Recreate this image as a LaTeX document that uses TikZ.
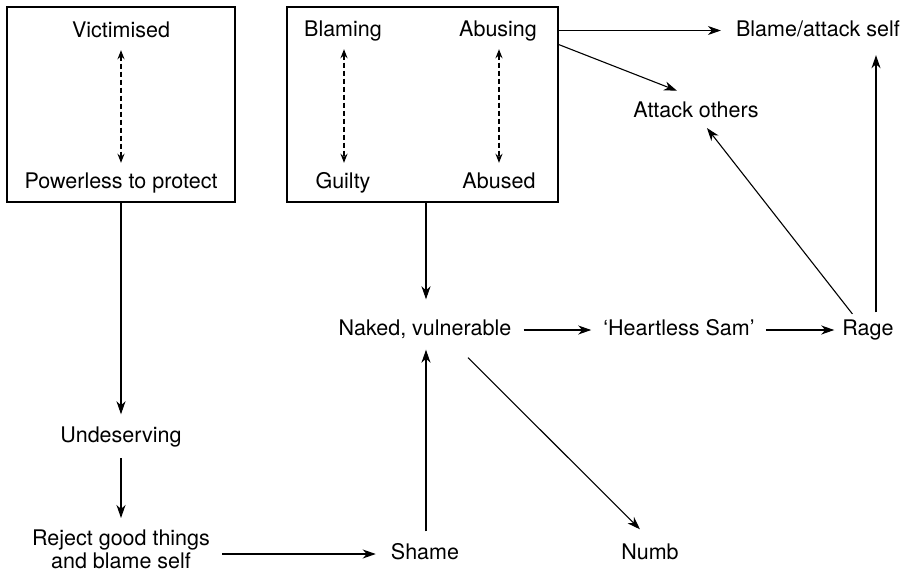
\documentclass[tikz,border=0pt]{standalone}
\usepackage{fontspec}
\setmainfont{TeX Gyre Heros}
\usetikzlibrary{arrows.meta}
\begin{document}
\begin{tikzpicture}[x=1pt,y=-1pt,
  lbl/.style={inner sep=0pt, font=\fontsize{21.5}{25}\selectfont,
    text height=15.5pt, text depth=4.5pt},
  lbltwo/.style={inner sep=0pt, font=\fontsize{21.5}{23}\selectfont, align=center, anchor=north},
  frame/.style={draw, line width=1.2pt, inner sep=0pt},
  link/.style={line width=1.1pt, -{Stealth[length=13pt,width=9pt,inset=4pt]}},
  pair/.style={line width=1.4pt, dash pattern=on 5pt off 3pt,
    {Stealth[length=9pt,width=7pt,inset=3pt]}-{Stealth[length=9pt,width=7pt,inset=3pt]}},
]
\useasboundingbox (0,0) rectangle (906,574);

% framed groups
\node[frame, minimum width=228pt, minimum height=195pt] (lbox) at (121,104.5) {};
\node[frame, minimum width=271pt, minimum height=195pt] (rbox) at (422.5,104.5) {};

% labels
\node[lbl] (vic) at (121,31.5) {Victimised};
\node[lbl] (pow) at (121,182.5) {Powerless to protect};
\node[lbl] (blaming) at (343,30.5) {Blaming};
\node[lbl] (guilty) at (343,182.5) {Guilty};
\node[lbl] (abusing) at (498,30.5) {Abusing};
\node[lbl] (abused) at (499,182.5) {Abused};
\node[lbl] (blame) at (818,30.5) {Blame/attack self};
\node[lbl] (attack) at (696,111.5) {Attack others};
\node[lbl] (naked) at (425,330) {Naked, vulnerable};
\node[lbl] (heart) at (679,330) {‘Heartless Sam’};
\node[lbl] (rage) at (868,330) {Rage};
\node[lbl] (und) at (121,436.5) {Undeserving};
\node[lbltwo] (rej) at (121,530) {Reject good things\\and blame self};
\node[lbl] (shame) at (425,554) {Shame};
\node[lbl] (numb) at (650,554) {Numb};

% two-way pairs inside the frames
\draw[pair, shorten <=8.5pt, shorten >=9.5pt] (vic.south) -- (pow.north);
\draw[pair, shorten <=8.5pt, shorten >=9.5pt] ([xshift=1pt]blaming.south) -- ([xshift=1pt]blaming.south |- guilty.north);
\draw[pair, shorten <=8.5pt, shorten >=9.5pt] ([xshift=1pt]abusing.south) -- ([xshift=1pt]abusing.south |- abused.north);

% flow
\draw[link, shorten >=12pt] (lbox.south) -- (und.north);
\draw[link, shorten <=11.5pt, shorten >=12pt] (und.south) -- (rej.north);
\draw[link, shorten <=12pt, shorten >=15pt] (rej.east |- shame.west) -- (shame.west);
\draw[link, shorten <=12.5pt, shorten >=9.5pt] ([xshift=1pt]shame.north) -- ([xshift=1pt]naked.south);
\draw[link, shorten >=20.5pt] ([xshift=1pt]rbox.south -| naked.north) -- ([xshift=1pt]naked.north);
\draw[link, shorten <=12pt, shorten >=12pt] (naked.east) -- (heart.west);
\draw[link, shorten <=11pt, shorten >=8pt] (heart.east) -- (rage.west);
\draw[link, shorten <=7.5pt, shorten >=14.5pt] ([xshift=8pt]rage.north) -- ([xshift=8pt]rage.north |- blame.south);
\draw[link, shorten <=7.5pt, shorten >=8pt] ([xshift=-11pt]rage.north) -- ([xshift=6pt]attack.south);
\draw[link, shorten >=15pt] (rbox.east |- abusing.center) -- (blame.west);
\draw[link, shorten >=29pt] ([yshift=-14pt]rbox.east |- abusing.center) -- ([xshift=8pt]attack.north);
\draw[link, shorten <=24.7pt, shorten >=20.5pt] ([xshift=25.5pt]naked.south) -- ([xshift=4.5pt]numb.north);
\end{tikzpicture}
\end{document}
